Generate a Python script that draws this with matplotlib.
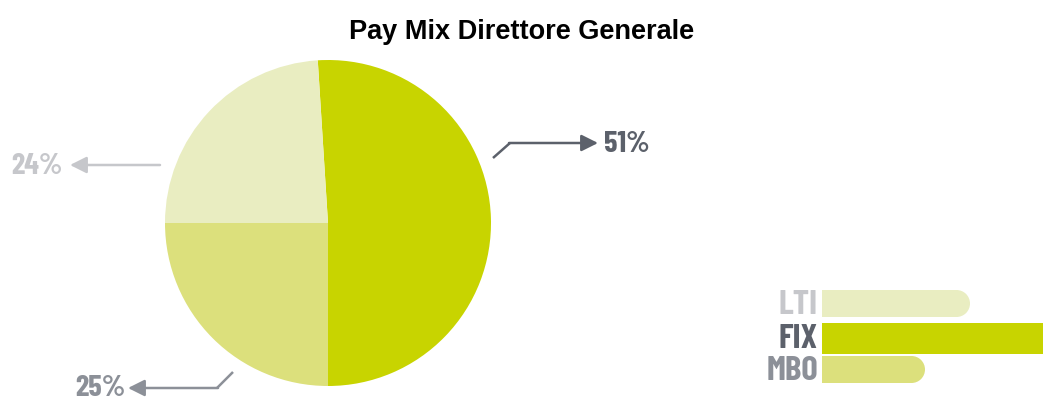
import matplotlib.pyplot as plt
from matplotlib.patches import Wedge

# quote del pay mix (percentuali)
componenti = ["FIX", "LTI", "MBO"]
quote = [51, 24, 25]
colori = ["#c8d400", "#e9edc1", "#dce07c"]
etichette = ["51%", "24%", "25%"]
colori_testo = ["#5c616b", "#c6c7cb", "#8c9098"]

# barre della legenda (lunghezza in pixel)
barre_nomi = ["LTI", "FIX", "MBO"]
barre_len = [148, 240, 103]
barre_col = ["#e9edc1", "#c8d400", "#dce07c"]
barre_txt = ["#c6c7cb", "#5c616b", "#8c9098"]

W, H = 1043, 401


def Y(p):
    # coordinate in pixel dall'alto
    return H - p


fig = plt.figure(figsize=(W / 100, H / 100), dpi=100)
ax = fig.add_axes([0, 0, 1, 1])

ax.pie(
    quote,
    colors=colori,
    startangle=-90,
    counterclock=True,
    center=(328, Y(223)),
    radius=163,
    wedgeprops=dict(linewidth=0),
    frame=True,
)

fnt = dict(family=["Barlow Condensed", "DejaVu Sans"], weight="bold")

## Frecce ed etichette percentuali
freccia = dict(arrowstyle="-|>,head_length=1.0,head_width=0.5", lw=1.8, shrinkA=0, shrinkB=0)

# 51%
ax.plot([493, 510], [Y(158), Y(143)], color=colori_testo[0], lw=1.8, solid_capstyle="butt")
ax.annotate("", xy=(598, Y(143)), xytext=(509, Y(143)),
            arrowprops=dict(freccia, color=colori_testo[0]))
ax.text(604, Y(144), etichette[0], color=colori_testo[0], fontsize=22,
        va="center", ha="left", **fnt)

# 24%
ax.annotate("", xy=(70, Y(165)), xytext=(160, Y(165)),
            arrowprops=dict(freccia, color=colori_testo[1]))
ax.text(63, Y(166), etichette[1], color=colori_testo[1], fontsize=22,
        va="center", ha="right", **fnt)

# 25%
ax.plot([233, 217], [Y(372), Y(388)], color=colori_testo[2], lw=1.8, solid_capstyle="butt")
ax.annotate("", xy=(128, Y(388)), xytext=(218, Y(388)),
            arrowprops=dict(freccia, color=colori_testo[2]))
ax.text(126, Y(389), etichette[2], color=colori_testo[2], fontsize=22,
        va="center", ha="right", **fnt)

## Barre della legenda
x0 = 822
ys = [Y(303.5), Y(338.5), Y(369.5)]
hs = [27, 31, 27]
for nome, lung, col, tc, y, h in zip(barre_nomi, barre_len, barre_col, barre_txt, ys, hs):
    if nome == "FIX":
        ax.barh(y, lung, height=h, left=x0, color=col, linewidth=0)
    else:
        ax.barh(y, lung - h / 2, height=h, left=x0, color=col, linewidth=0)
        ax.add_patch(Wedge((x0 + lung - h / 2, y), h / 2, -90, 90, color=col, linewidth=0))
    ax.text(818, y - 1, nome, color=tc, fontsize=25, va="center", ha="right", **fnt)

ax.set_xlim(0, W)
ax.set_ylim(0, H)
ax.set_aspect("auto")
ax.axis("off")

fig.text(0.5, Y(32) / H, "Pay Mix Direttore Generale", ha="center", va="center",
         fontsize=19.5, weight="bold", family="Liberation Sans")

fig.savefig("out.png", dpi=100)
